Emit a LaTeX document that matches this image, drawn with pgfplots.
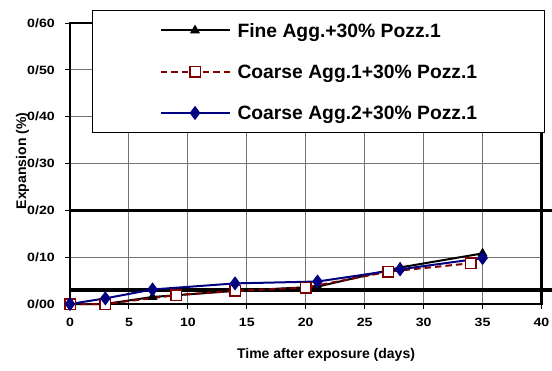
\documentclass[border=0pt]{standalone}
\usepackage{fontspec}
\setmainfont{Liberation Sans}
\newfontfamily\tickfont[FakeStretch=1.18]{Liberation Sans}
\usepackage{pgfplots}
\pgfplotsset{compat=1.18}
\definecolor{dred}{RGB}{128,0,0}
\definecolor{navyb}{RGB}{0,0,128}
\begin{document}
\begin{tikzpicture}[x=1pt,y=1pt]
\useasboundingbox (0,0) rectangle (552,370);
\begin{axis}[
  at={(70pt,66pt)}, anchor=south west,
  scale only axis, width=471.5pt, height=281pt,
  xmin=0, xmax=40, ymin=0, ymax=0.6,
  xtick={0,5,10,15,20,25,30,35,40},
  ytick={0,0.1,0.2,0.3,0.4,0.5,0.6},
  yticklabels={0/00,0/10,0/20,0/30,0/40,0/50,0/60},
  grid=major,
  major grid style={draw=black!55, line width=0.9pt},
  axis line style={line width=2.6pt},
  tick align=outside, tick pos=left,
  major tick length=4.5pt,
  tick style={black, line width=1pt},
  /pgf/number format/assume math mode=true,
  ticklabel style={font=\tickfont\bfseries\fontsize{12}{13}\selectfont, inner sep=0pt},
  yticklabel style={anchor=east, xshift=-10.5pt},
  xticklabel style={anchor=north, yshift=-9.5pt},
  xlabel={Time after exposure (days)},
  ylabel={Expansion (\%)},
  label style={font=\bfseries\fontsize{14}{16}\selectfont},
  xlabel style={at={(axis description cs:0.543,-0.181)}, anchor=center},
  ylabel style={at={(axis description cs:-0.1007,0.509)}, anchor=center},
  clip=false,
  legend cell align=left,
  legend image code/.code={\draw[mark repeat=2,mark phase=2,#1] plot coordinates {(0pt,0pt) (34.5pt,0pt) (69pt,0pt)};},
  every legend image post/.append style={line width=2pt},
  legend style={at={(0.0467,1.0463)}, anchor=north west, draw=black, line width=1pt, fill=white,
    inner xsep=67pt, inner ysep=13pt, row sep=27.5pt, column sep=7pt,
    font=\bfseries\fontsize{19.3}{20}\selectfont,
    nodes={inner sep=0pt, text height=13.8pt, text depth=0pt}},
]
\draw[line width=3.2pt, black] (axis cs:0,0.2) -- (axis cs:40.92,0.2);
\draw[line width=3.2pt, black] (axis cs:0,0.03) -- (axis cs:40.92,0.03);

\addplot[black, line width=2pt, mark=triangle*, mark size=4.8pt, mark options={solid, fill=black, line width=1pt}]
  coordinates {(0,0) (3,0) (7,0.015) (14,0.028) (21,0.037) (28,0.078) (35,0.108)};
\addlegendentry{Fine Agg.+30\% Pozz.1}

\addplot[dred, line width=2pt, dash pattern=on 6.5pt off 4pt, mark=square*, mark size=5.2pt, mark options={solid, fill=white, draw=dred, line width=1.4pt}]
  coordinates {(0,0) (3,0) (9,0.019) (14,0.028) (20,0.035) (27,0.069) (34,0.087)};
\addlegendentry{Coarse Agg.1+30\% Pozz.1}

\addplot[navyb, line width=2pt, mark=diamond*, mark size=6.3pt, mark options={solid, fill=navyb, line width=1pt}]
  coordinates {(0,0) (3,0.012) (7,0.031) (14,0.044) (21,0.048) (28,0.074) (35,0.098)};
\addlegendentry{Coarse Agg.2+30\% Pozz.1}
\end{axis}
\end{tikzpicture}
\end{document}
